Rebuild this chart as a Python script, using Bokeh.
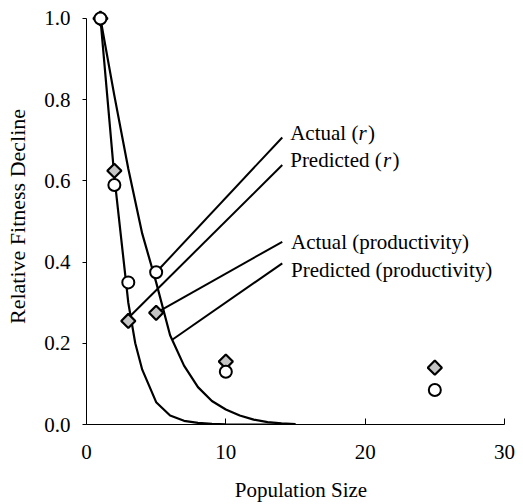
import numpy as np
from bokeh.plotting import figure
from bokeh.models import Range1d, FixedTicker, PrintfTickFormatter
from bokeh.core.properties import value
from bokeh.embed import file_html
from bokeh.resources import INLINE

# ---------------- data ----------------
pop_size = [1, 2, 3, 5, 10, 25]
actual_r = [1.0, 0.59, 0.35, 0.375, 0.13, 0.085]
actual_prod = [1.0, 0.625, 0.255, 0.275, 0.155, 0.14]

pred_r_n = [1, 2, 3, 3.5, 4, 5, 6, 7, 8, 9, 10, 12, 15]
pred_r = [1.0, 0.61, 0.30, 0.20, 0.135, 0.055, 0.022, 0.009, 0.004, 0.0015, 0.0005, 0.0, 0.0]

pred_prod_n = [1, 2, 3, 4, 5, 6, 7, 8, 9, 10, 11, 12, 13, 14, 15]
pred_prod = [1.0, 0.81, 0.63, 0.47, 0.35, 0.22, 0.145, 0.092, 0.058, 0.037, 0.022, 0.012, 0.006, 0.003, 0.001]

label_names = ["Actual", "Predicted", "Actual", "Predicted"]
label_measures = ["r", "r", "productivity", "productivity"]

x_ticks = [0, 10, 20, 30]
y_ticks = [0.0, 0.2, 0.4, 0.6, 0.8, 1.0]

# ---------------- layout ----------------
FONT = "Liberation Serif"
FS = 21

# where each leader line touches its series
pred_r_touch_n = 3.16
pred_prod_touch_n = 6.15
leader_from_x = [pop_size[3], pred_r_touch_n, pop_size[3], pred_prod_touch_n]
leader_from_y = [actual_r[3], float(np.interp(pred_r_touch_n, pred_r_n, pred_r)),
                 actual_prod[3], float(np.interp(pred_prod_touch_n, pred_prod_n, pred_prod))]
leader_to_x = [14.05, 14.05, 14.05, 14.05]
leader_to_y = [0.707, 0.639, 0.450, 0.397]
label_x = [14.62, 14.62, 14.68, 14.68]
label_y = [0.717, 0.651, 0.450, 0.381]

# Times advance widths (per 1000 em) for offset of italic part
TW = {'A': 722, 'c': 444, 't': 278, 'u': 500, 'a': 444, 'l': 278, ' ': 250, '(': 333,
      ')': 333, 'r': 389, 'P': 556, 'e': 444, 'd': 500, 'i': 278}


def width(s):
    return sum(TW[ch] for ch in s) * FS / 1000.0


p = figure(width=523, height=504, output_backend="svg", toolbar_location=None,
           x_range=Range1d(0, 30.79), y_range=Range1d(0, 1.0246),
           min_border_left=86, min_border_right=8, min_border_top=8, min_border_bottom=79)
p.outline_line_color = None
p.xgrid.visible = False
p.ygrid.visible = False
p.background_fill_color = "white"
p.border_fill_color = "white"

# curves
p.line(pred_r_n, pred_r, line_color="black", line_width=2.2)
p.line(pred_prod_n, pred_prod, line_color="black", line_width=2.2)

# leader lines
p.segment(leader_from_x, leader_from_y, leader_to_x, leader_to_y, line_color="black", line_width=2)

# markers
p.scatter(pop_size, actual_prod, marker="square", angle=np.pi / 4, size=10,
          fill_color="#c4c4c4", line_color="black", line_width=2.2)
p.scatter(pop_size, actual_r, marker="circle", size=12,
          fill_color="white", line_color="black", line_width=2)

# labels
for i in range(4):
    name = label_names[i]
    meas = label_measures[i]
    if meas == "r":
        pre = name + " ("
        p.text([label_x[i]], [label_y[i]], text=[pre], text_font=value(FONT), text_font_size=f"{FS}px",
               text_baseline="alphabetic", text_align="left", text_color="black")
        off = width(pre)
        p.text([label_x[i]], [label_y[i]], text=[meas], text_font=value(FONT), text_font_size=f"{FS}px",
               text_font_style="italic", text_baseline="alphabetic", text_align="left",
               x_offset=off, text_color="black")
        off2 = off + width("r") + 1.5
        p.text([label_x[i]], [label_y[i]], text=[")"], text_font=value(FONT), text_font_size=f"{FS}px",
               text_baseline="alphabetic", text_align="left", x_offset=off2, text_color="black")
    else:
        p.text([label_x[i]], [label_y[i]], text=[f"{name} ({meas})"], text_font=value(FONT),
               text_font_size=f"{FS}px", text_baseline="alphabetic", text_align="left", text_color="black")

# axes
for ax in (p.xaxis[0], p.yaxis[0]):
    ax.axis_line_color = "black"
    ax.axis_line_width = 1
    ax.major_tick_line_color = "black"
    ax.minor_tick_line_color = None
    ax.major_label_text_font = FONT
    ax.major_label_text_font_size = f"{FS}px"
    ax.major_label_text_color = "black"
    ax.axis_label_text_font = FONT
    ax.axis_label_text_font_style = "normal"
    ax.axis_label_text_color = "black"

p.xaxis.ticker = FixedTicker(ticks=x_ticks)
p.xaxis.bounds = (0, 30)
p.xaxis.major_tick_in = 6
p.xaxis.major_tick_out = 0
p.xaxis.major_label_standoff = 20
p.xaxis.axis_label = "Population Size"
p.xaxis.axis_label_text_font_size = "21px"
p.xaxis.axis_label_standoff = 16

p.yaxis.ticker = FixedTicker(ticks=y_ticks)
p.yaxis.formatter = PrintfTickFormatter(format="%.1f")
p.yaxis.bounds = (0, 1)
p.yaxis.major_tick_in = 0
p.yaxis.major_tick_out = 4
p.yaxis.major_label_standoff = 12
p.yaxis.axis_label = "Relative Fitness Decline"
p.yaxis.axis_label_text_font_size = "22px"
p.yaxis.axis_label_standoff = 11

open("out.html", "w").write(file_html(p, INLINE))
